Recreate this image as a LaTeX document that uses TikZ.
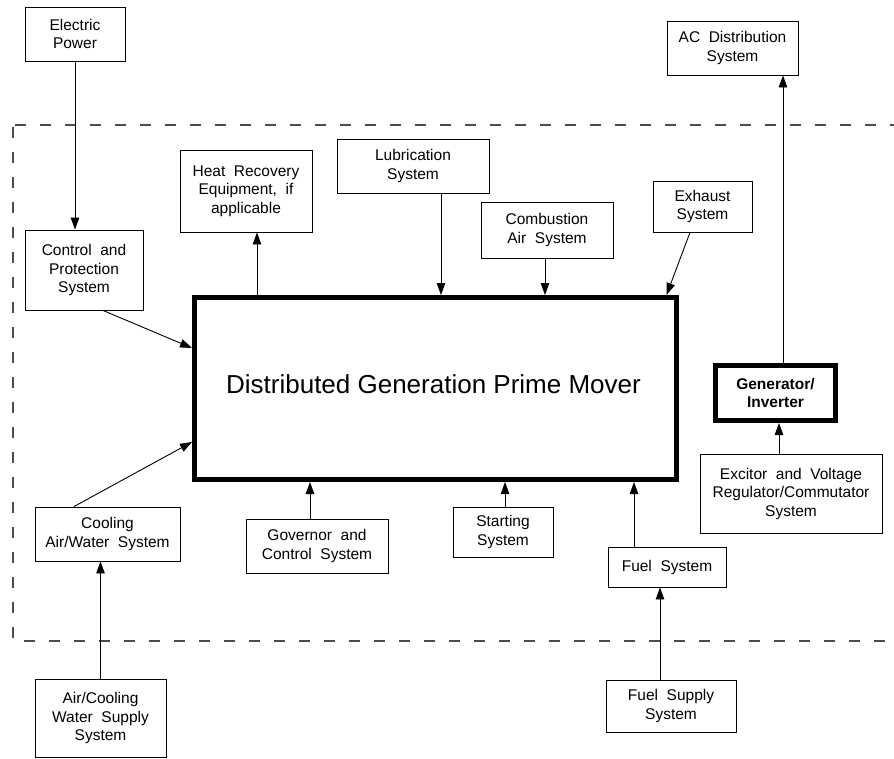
\documentclass[tikz,border=0pt]{standalone}
\usepackage{fontspec}
\setmainfont{Liberation Sans}
\usetikzlibrary{arrows.meta,calc}
\begin{document}
\begin{tikzpicture}[x=1pt,y=-1pt,
  box/.style={draw,line width=0.9pt,align=center,inner sep=0pt,font=\fontsize{15.5}{18.5}\selectfont},
  arr/.style={line width=0.9pt,-{Triangle[length=12pt,width=8.5pt]}},
  bound/.style={black!70,line width=1.4pt,dash pattern=on 11pt off 14pt}]
\useasboundingbox (0,0) rectangle (894,758);
% dashed boundary
\draw[bound,dash phase=-2pt] (13,125) -- (894,125);
\draw[bound,dash phase=-2pt] (13,125) -- (13,641) -- (894,641);
% nodes
\node[box,minimum width=100,minimum height=54] (ep) at (75,34) {Electric\\Power};
\node[box,minimum width=118,minimum height=80] (cp) at (84,270) {Control\ \ and\\Protection\\System};
\node[box,minimum width=132,minimum height=82] (hr) at (246,191) {Heat\ \ Recovery\\Equipment,\ \ if\\applicable};
\node[box,minimum width=152,minimum height=54] (lub) at (413,166) {Lubrication\\System};
\node[box,minimum width=132,minimum height=56] (comb) at (547,230) {Combustion\\Air\ \ System};
\node[box,minimum width=99,minimum height=51] (exh) at (702.5,206.5) {Exhaust\\System};
\node[box,minimum width=131,minimum height=54] (ac) at (732.5,48) {AC\ \ Distribution\\System};
\node[draw,line width=5pt,minimum width=481.5,minimum height=182,inner sep=0pt,text depth=0pt] (main) at (435.25,388.5) {};
\node[font=\fontsize{26}{30}\selectfont,inner sep=0pt,anchor=base] (maintext) at (433.5,393) {Distributed Generation Prime Mover};
\node[draw,line width=5pt,minimum width=120,minimum height=55,inner sep=0pt,align=center,font=\fontsize{15.5}{18.5}\selectfont\bfseries] (gen) at (775.5,393) {Generator/\\Inverter};
\node[box,minimum width=182,minimum height=79] (exc) at (791,493.5) {Excitor\ \ and\ \ Voltage\\Regulator/Commutator\\System};
\node[box,minimum width=100,minimum height=50] (start) at (503,532) {Starting\\System};
\node[box,minimum width=118,minimum height=40] (fuel) at (667,567) {Fuel\ \ System};
\node[box,minimum width=130,minimum height=52] (fsup) at (671,706) {Fuel\ \ Supply\\System};
\node[box,minimum width=145,minimum height=54] (cool) at (107.5,534) {Cooling\\Air/Water\ \ System};
\node[box,minimum width=142,minimum height=54] (gov) at (317,546) {Governor\ \ and\\Control\ \ System};
\node[box,minimum width=131,minimum height=78] (acs) at (100.5,718) {Air/Cooling\\Water\ \ Supply\\System};
% connectors
\draw[arr] (ep.south) -- (ep.south |- cp.north);
\draw[arr] ([xshift=11pt]main.north -| hr.south) -- ([xshift=11pt]hr.south);
\draw[arr] ([xshift=28pt]lub.south) -- ([xshift=28pt]lub.south |- main.north);
\draw[arr] ([xshift=-2pt]comb.south) -- ([xshift=-2pt]comb.south |- main.north);
\draw[arr] ([xshift=-12.5pt]exh.south) -- ([xshift=-12pt]main.north east);
\draw[arr] ([xshift=7.5pt]gen.north) -- ([xshift=7.5pt]gen.north |- ac.south);
\draw[arr] ([xshift=-12pt]exc.north) -- ([xshift=-12pt]exc.north |- gen.south);
\draw[arr] ([xshift=19pt]cp.south) -- ([yshift=40.5pt]main.west);
\draw[arr] ([xshift=-33.5pt]cool.north) -- ([yshift=-53.5pt]main.west);
\draw[arr] ([xshift=-7pt]gov.north) -- ([xshift=-7pt]gov.north |- main.south);
\draw[arr] ([xshift=2pt]start.north) -- ([xshift=2pt]start.north |- main.south);
\draw[arr] ([xshift=-33pt]fuel.north) -- ([xshift=-33pt]fuel.north |- main.south);
\draw[arr] ([xshift=-11pt]fsup.north) -- ([xshift=-11pt]fsup.north |- fuel.south);
\draw[arr] (acs.north) -- (acs.north |- cool.south);
\end{tikzpicture}
\end{document}
